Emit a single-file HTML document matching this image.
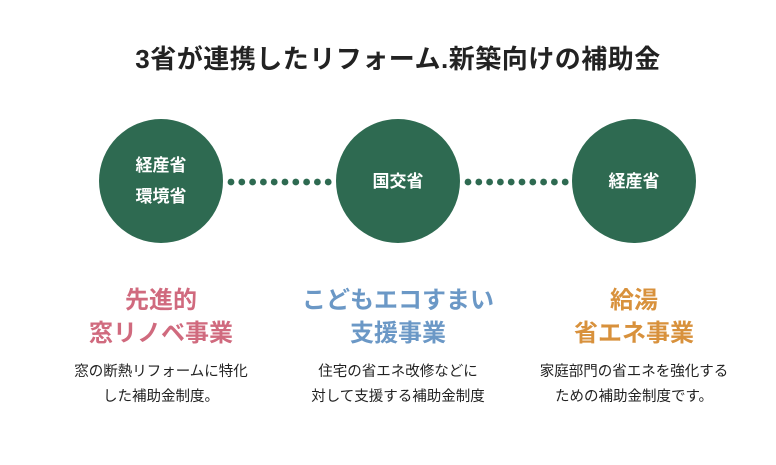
<!DOCTYPE html>
<html><head><meta charset="utf-8"><style>
body{margin:0;width:776px;height:465px;background:#fff;font-family:"Liberation Sans","Noto Sans CJK JP",sans-serif;position:relative;overflow:hidden}
.a{position:absolute;text-align:center;white-space:nowrap}
.c{position:absolute;width:124px;height:124px;border-radius:50%;background:#2e6a51;color:#fff;font-weight:bold;font-size:17px;display:flex;align-items:center;justify-content:center;line-height:31px;text-align:center}
.h{font-weight:bold;font-size:24px;line-height:33px;width:260px}
.d{font-size:14.5px;line-height:25px;color:#222;width:260px}
</style></head><body>
<div class="a" style="left:0;width:796px;top:39px;font-size:26px;font-weight:bold;color:#222;letter-spacing:0.5px">3省が連携したリフォーム.新築向けの補助金</div>
<div class="c" style="left:99px;top:119px">経産省<br>環境省</div>
<div class="c" style="left:336px;top:119px">国交省</div>
<div class="c" style="left:572px;top:119px">経産省</div>
<svg class="a" style="left:0;top:0" width="776" height="465">
<g fill="#2e6a51">
<circle cx="231" cy="182" r="3.4"/><circle cx="241.8" cy="182" r="3.4"/><circle cx="252.6" cy="182" r="3.4"/><circle cx="263.4" cy="182" r="3.4"/><circle cx="274.2" cy="182" r="3.4"/><circle cx="285" cy="182" r="3.4"/><circle cx="295.8" cy="182" r="3.4"/><circle cx="306.6" cy="182" r="3.4"/><circle cx="317.4" cy="182" r="3.4"/><circle cx="328.2" cy="182" r="3.4"/>
<circle cx="468" cy="182" r="3.4"/><circle cx="478.8" cy="182" r="3.4"/><circle cx="489.6" cy="182" r="3.4"/><circle cx="500.4" cy="182" r="3.4"/><circle cx="511.2" cy="182" r="3.4"/><circle cx="522" cy="182" r="3.4"/><circle cx="532.8" cy="182" r="3.4"/><circle cx="543.6" cy="182" r="3.4"/><circle cx="554.4" cy="182" r="3.4"/><circle cx="565.2" cy="182" r="3.4"/>
</g></svg>
<div class="a h" style="left:31px;top:284px;color:#d06a7e">先進的<br>窓リノベ事業</div>
<div class="a h" style="left:268px;top:284px;color:#6b98c6">こどもエコすまい<br>支援事業</div>
<div class="a h" style="left:504px;top:284px;color:#d8913c">給湯<br>省エネ事業</div>
<div class="a d" style="left:31px;top:360px">窓の断熱リフォームに特化<br>した補助金制度。</div>
<div class="a d" style="left:268px;top:360px">住宅の省エネ改修などに<br>対して支援する補助金制度</div>
<div class="a d" style="left:504px;top:360px">家庭部門の省エネを強化する<br>ための補助金制度です。</div>
</body></html>
